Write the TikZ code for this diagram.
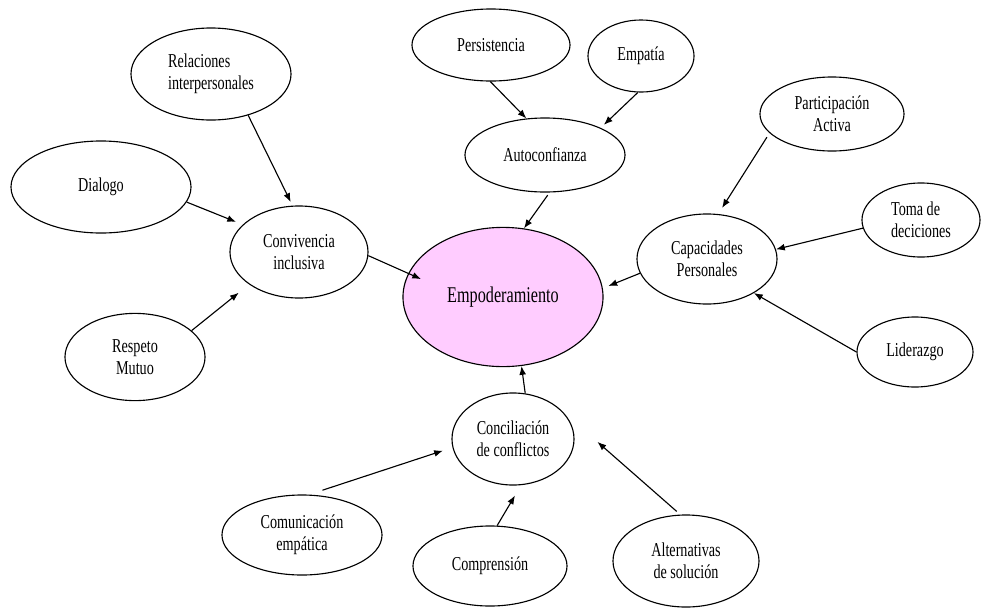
\documentclass[tikz,border=0pt]{standalone}
\usepackage{fontspec}
\setmainfont{Liberation Serif}[FakeStretch=0.72]
\usepackage{tikz}
\usetikzlibrary{shapes.geometric, arrows.meta}
\definecolor{pinkfill}{RGB}{255,204,255}

\begin{document}
\begin{tikzpicture}[
    x=0.025cm, y=-0.025cm,
    concept/.style={ellipse, draw=black, line width=0.8pt, inner sep=0pt, align=center, font={\fontsize{14}{15.6}\selectfont}},
    link/.style={-{Latex[length=2.2mm, width=1.7mm]}, line width=0.8pt}
]
\path[use as bounding box, fill=white] (0,0) rectangle (982,607);

% centro
\node[concept, fill=pinkfill, minimum width=5cm, minimum height=3.48cm, font={\fontsize{16}{18}\selectfont}] (emp) at (503,297) {Empoderamiento};

% convivencia
\node[concept, minimum width=4cm, minimum height=2.3cm, align=left] (rel) at (211,74) {Relaciones\\interpersonales};
\node[concept, minimum width=4.5cm, minimum height=2.3cm] (dia) at (101,187) {Dialogo};
\node[concept, minimum width=3.45cm, minimum height=2.3cm] (conv) at (299,252) {Convivencia\\inclusiva};
\node[concept, minimum width=3.5cm, minimum height=2.18cm] (resp) at (135,357) {Respeto\\Mutuo};

% autoconfianza
\node[concept, minimum width=3.95cm, minimum height=1.8cm] (pers) at (491,45) {Persistencia};
\node[concept, minimum width=2.65cm, minimum height=1.8cm] (empa) at (641,56) {Empatía};
\node[concept, minimum width=4cm, minimum height=1.85cm] (auto) at (545,155) {Autoconfianza};

% capacidades
\node[concept, minimum width=3.6cm, minimum height=1.85cm] (part) at (832,114) {Participación\\Activa};
\node[concept, minimum width=2.95cm, minimum height=1.85cm, align=left] (toma) at (921,220) {Toma de\\deciciones};
\node[concept, minimum width=3.5cm, minimum height=2.25cm] (cap) at (707,259) {Capacidades\\Personales};
\node[concept, minimum width=2.9cm, minimum height=1.75cm] (lid) at (915,352) {Liderazgo};

% conciliacion
\node[concept, minimum width=3.05cm, minimum height=2.3cm] (conc) at (513,439) {Conciliación\\de conflictos};
\node[concept, minimum width=4cm, minimum height=2cm] (com) at (302,535) {Comunicación\\empática};
\node[concept, minimum width=3.85cm, minimum height=2cm] (comp) at (490,566) {Comprensión};
\node[concept, minimum width=3.65cm, minimum height=2.3cm] (alt) at (686,561) {Alternativas\\de solución};

% flechas
\draw[link, shorten >=0.1cm] (rel.-48) -- (conv.98);
\draw[link, shorten >=0.18cm] (dia.-10) -- (conv.154);
\draw[link, shorten >=0.33cm] (resp.25) -- (conv.-147);
\draw[link, shorten >=-0.35cm] (conv.-3) -- (emp.166);
\draw[link] (pers.-91) -- (auto.117);
\draw[link, shorten >=0.11cm] (empa.-95) -- (auto.26);
\draw[link, shorten <=0.08cm] (auto.-83) -- (emp.73);
\draw[link, shorten <=0.12cm, shorten >=0.18cm] (part.-163) -- (cap.76);
\draw[link] (toma.-172) -- (cap.8);
\draw[link] (lid.180) -- (cap.-36);
\draw[link, shorten >=0.15cm] (cap.192) -- (emp.5);
\draw[link] (conc.75) -- (emp.-75);
\draw[link, shorten <=0.35cm, shorten >=0.25cm] (com.80) -- (conc.188);
\draw[link, shorten >=0.3cm] (comp.80) -- (conc.-80);
\draw[link, shorten <=0.12cm, shorten >=1.18cm] (alt.97) -- (conc.30);

\end{tikzpicture}
\end{document}
